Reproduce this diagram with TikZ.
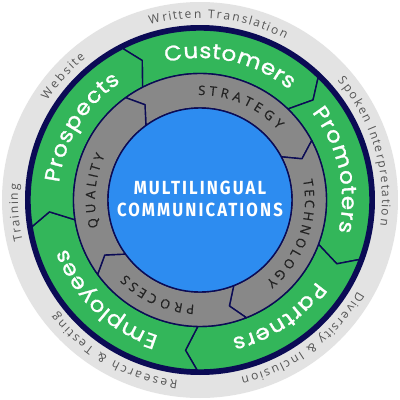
\documentclass[tikz,border=0pt]{standalone}
\usepackage{fontspec}
\setmainfont{Open Sans}
\newfontfamily\greenfont[FakeBold=1.2, FakeStretch=1.1]{Poppins}
\newfontfamily\labfont{Open Sans}
\newfontfamily\capfont[FakeBold=0.6]{Open Sans}
\newfontfamily\ctrfont[LetterSpace=11, FakeStretch=0.88]{Fira Sans}
\usetikzlibrary{decorations.text}
\definecolor{ringgray}{HTML}{E3E3E3}
\definecolor{navy}{HTML}{0B0B55}
\definecolor{segreen}{HTML}{33B65A}
\definecolor{seggray}{HTML}{888888}
\definecolor{ctrblue}{HTML}{2D8CF0}
\definecolor{outtext}{HTML}{555555}
\definecolor{captext}{HTML}{222222}
\tikzset{
  greenseg/.style={fill=segreen, draw=navy, line width=1.4pt, line join=round},
  grayseg/.style={fill=seggray, draw=navy, line width=1.4pt, line join=round},
  outerlab/.style={font=\fontsize{12}{14}\selectfont\labfont, text=outtext, anchor=base, inner sep=0pt},
  greenlab/.style={font=\fontsize{21}{24}\selectfont\greenfont, text=white, anchor=base, inner sep=0pt},
  graylab/.style={font=\fontsize{13}{15}\selectfont\capfont, text=captext, anchor=base, inner sep=0pt},
}
% #1 style, #2 start angle, #3 end angle, #4 rin, #5 rmid, #6 rout, #7 tip offset
\newcommand{\ringseg}[7]{%
  \path[#1] (#2:#6pt) arc[start angle=#2, end angle=#3, radius=#6pt]
    -- ({#3-#7}:#5pt) -- (#3:#4pt)
    arc[start angle=#3, end angle=#2, radius=#4pt]
    -- ({#2-#7}:#5pt) -- cycle;}
% #1 char style, #2 radius, #3 start angle, #4 end angle, #5 text
\newcommand{\arctext}[5]{%
  \path[decoration={text effects along path, text={#5},
      text effects/.cd, text along path, fit text to path,
      characters={#1}}, decorate]
    (#3:#2pt) arc[start angle=#3, end angle=#4, radius=#2pt];}
\begin{document}
\begin{tikzpicture}
\useasboundingbox (-200pt,-200pt) rectangle (200pt,200pt);
\fill[white] (-200pt,-200pt) rectangle (200pt,200pt);
\fill[ringgray] (0,0) circle[radius=198pt];
\fill[navy] (0,0) circle[radius=175pt];
% green ring
\ringseg{greenseg}{117}{46}{126.5}{151}{170}{4.5}
\ringseg{greenseg}{46}{-20.5}{126.5}{151}{170}{4.5}
\ringseg{greenseg}{-20.5}{-91}{126.5}{151}{170}{4.5}
\ringseg{greenseg}{269}{189}{126.5}{151}{170}{4.5}
\ringseg{greenseg}{189}{117}{126.5}{151}{170}{4.5}
% gray ring
\ringseg{grayseg}{126}{28}{92}{110}{126.5}{6}
\ringseg{grayseg}{28}{-68.5}{92}{110}{126.5}{6}
\ringseg{grayseg}{-68.5}{-144}{92}{110}{126.5}{6}
\ringseg{grayseg}{216}{126}{92}{110}{126.5}{6}
% centre
\draw[fill=ctrblue, draw=navy, line width=1.4pt] (0,0) circle[radius=92pt];
\node[font=\fontsize{19}{22.5}\selectfont\ctrfont\bfseries, text=white, align=center] (ctr) at (0,1pt) {MULTILINGUAL\\COMMUNICATIONS};
% outer labels
\arctext{outerlab}{182}{106}{62}{Written Translation}
\arctext{outerlab}{182}{41}{-8}{Spoken Interpretation}
\arctext{outerlab}{182}{-30}{-77}{Diversity {\&} Inclusion}
\arctext{outerlab}{182}{-97}{-142}{Research {\&} Testing}
\arctext{outerlab}{182}{193}{175}{Training}
\arctext{outerlab}{182}{147}{129}{Website}
% green labels
\arctext{greenlab}{142}{104}{51}{Customers}
\arctext{greenlab}{142}{38}{-13}{Promoters}
\arctext{greenlab}{142}{-35}{-77}{Partners}
\arctext{greenlab}{142}{-107}{-160}{Employees}
\arctext{greenlab}{142}{173}{124}{Prospects}
% gray labels
\arctext{graylab}{105}{91}{42}{STRATEGY}
\arctext{graylab}{105}{11}{-51}{TECHNOLOGY}
\arctext{graylab}{105}{-93}{-135}{PROCESS}
\arctext{graylab}{105}{195}{155}{QUALITY}
\end{tikzpicture}
\end{document}
